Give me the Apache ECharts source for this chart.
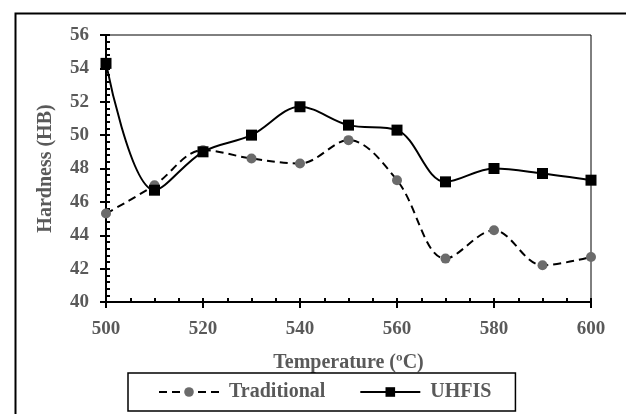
<!DOCTYPE html>
<html>
<head>
  <meta charset="UTF-8">
  <title>Hardness vs Temperature</title>
  <script src="https://cdn.jsdelivr.net/npm/echarts@6.0.0/dist/echarts.min.js"></script>
  <style>
    html, body { margin: 0; padding: 0; background: #fff; }
    #main { width: 626px; height: 414px; }
  </style>
</head>
<body>
  <div id="main"></div>
  <script>
    const temps = [500, 510, 520, 530, 540, 550, 560, 570, 580, 590, 600];
    const traditional = [45.3, 47.0, 49.1, 48.6, 48.3, 49.7, 47.3, 42.6, 44.3, 42.2, 42.7];
    const uhfis = [54.3, 46.7, 49.0, 50.0, 51.7, 50.6, 50.3, 47.2, 48.0, 47.7, 47.3];

    const chart = echarts.init(document.getElementById('main'));
    const font = 'Liberation Serif';
    const grey = '#595959';

    const labelTxt = { fontFamily: font, fontWeight: 'bold', fontSize: 19, color: grey };
    const nameTxt = { fontFamily: font, fontWeight: 'bold', fontSize: 20, color: grey };

    // main axes: labels + inside ticks (major + minor)
    const xMain = {
      type: 'value', min: 500, max: 600, interval: 20, position: 'bottom',
      name: 'Temperature (ºC)', nameLocation: 'middle', nameGap: 51,
      nameTextStyle: nameTxt,
      axisLine: { lineStyle: { color: '#000', width: 2 } },
      axisTick: { inside: true, length: 4, lineStyle: { color: '#000', width: 2 } },
      minorTick: { show: true, splitNumber: 4, length: 4, lineStyle: { color: '#000', width: 2 } },
      axisLabel: Object.assign({ margin: 18 }, labelTxt),
      splitLine: { show: false }
    };
    // second axis only for the outside half of the major ticks
    const xOut = {
      type: 'value', min: 500, max: 600, interval: 20, position: 'bottom',
      axisLine: { show: false },
      axisTick: { inside: false, length: 6, lineStyle: { color: '#000', width: 2 } },
      axisLabel: { show: false },
      splitLine: { show: false }
    };
    const yMain = {
      type: 'value', min: 40, max: 56, interval: 2, position: 'left',
      name: 'Hardness (HB)', nameLocation: 'middle', nameGap: 50,
      nameTextStyle: nameTxt,
      axisLine: { lineStyle: { color: '#000', width: 2 } },
      axisTick: { inside: true, length: 4, lineStyle: { color: '#000', width: 2 } },
      minorTick: { show: true, splitNumber: 5, length: 4, lineStyle: { color: '#000', width: 2 } },
      axisLabel: Object.assign({ margin: 17 }, labelTxt),
      splitLine: { show: false }
    };
    const yOut = {
      type: 'value', min: 40, max: 56, interval: 2, position: 'left',
      axisLine: { show: false },
      axisTick: { inside: false, length: 6, lineStyle: { color: '#000', width: 2 } },
      axisLabel: { show: false },
      splitLine: { show: false }
    };

    const option = {
      animation: false,
      graphic: [{
        type: 'rect', left: 13, top: 11, silent: true,
        shape: { width: 700, height: 500 },
        style: { fill: 'none', stroke: '#000', lineWidth: 2 }
      }],
      grid: {
        left: 106, right: 35, top: 35, bottom: 112,
        show: true, borderColor: '#000', borderWidth: 1, backgroundColor: 'transparent'
      },
      legend: {
        left: 128, top: 373,
        padding: [9, 24, 9, 30],
        itemGap: 34,
        itemWidth: 60, itemHeight: 12,
        borderColor: '#000', borderWidth: 1.5,
        textStyle: Object.assign({ padding: [0, 0, 0, 5] }, nameTxt),
        data: ['Traditional', 'UHFIS']
      },
      xAxis: [xMain, xOut],
      yAxis: [yMain, yOut],
      series: [
        {
          name: 'Traditional', type: 'line', smooth: 0.35,
          data: temps.map((t, i) => [t, traditional[i]]),
          symbol: 'circle', symbolSize: 10,
          itemStyle: { color: '#6b6b6b' },
          lineStyle: { color: '#000', width: 2, type: [8, 5] }
        },
        {
          name: 'UHFIS', type: 'line', smooth: 0.35,
          data: temps.map((t, i) => [t, uhfis[i]]),
          symbol: 'rect', symbolSize: 11,
          itemStyle: { color: '#000' },
          lineStyle: { color: '#000', width: 2 }
        }
      ]
    };

    chart.setOption(option);
  </script>
</body>
</html>
